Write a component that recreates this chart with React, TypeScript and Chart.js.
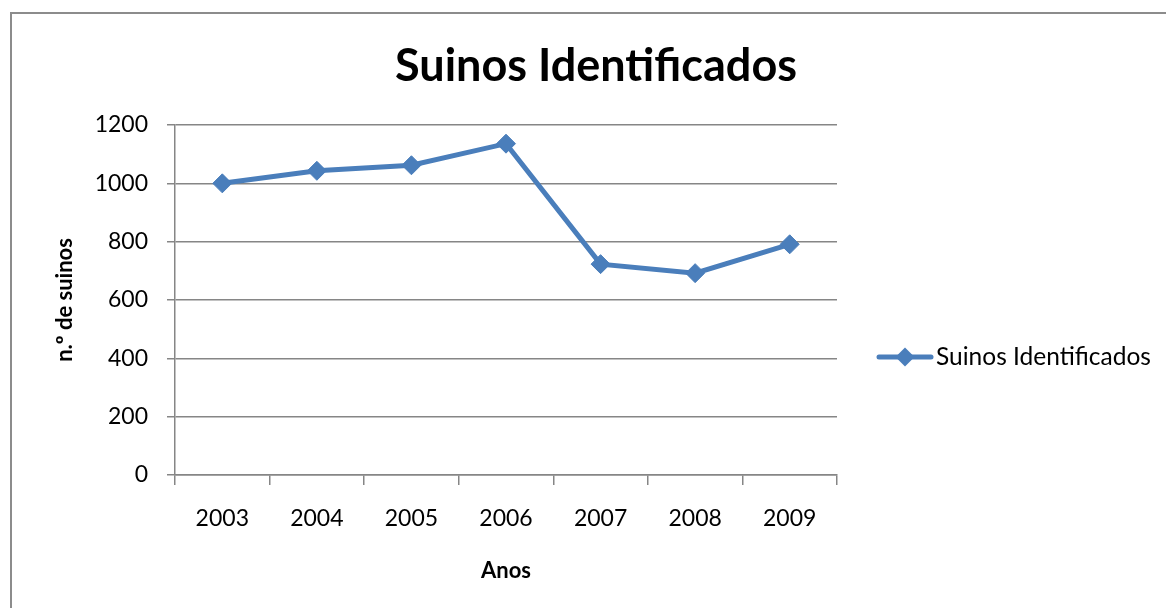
import React, { useEffect, useRef } from "react";
import { Chart, registerables } from "chart.js";

Chart.register(...registerables);

const categories = ["2003", "2004", "2005", "2006", "2007", "2008", "2009"];
const seriesName = "Suinos Identificados";
const seriesValues = [1000, 1043, 1062, 1136, 723, 692, 791];
const yTicks = [0, 200, 400, 600, 800, 1000, 1200];
const chartTitle = "Suinos Identificados";
const yTitle = "n.º de suinos";
const xTitle = "Anos";

const FONT = "Lato, 'Open Sans', sans-serif";
const LINE = "#4a7ebb";
const GRID = "#868686";

const overlayPlugin = {
  id: "overlay",
  afterDraw(chart: any) {
    const ctx = chart.ctx;
    ctx.save();
    // title
    ctx.fillStyle = "#000";
    ctx.font = `bold 45px ${FONT}`;
    ctx.textAlign = "center";
    ctx.textBaseline = "middle";
    ctx.fillText(chartTitle, 596, 66);
    // legend
    const ds = chart.data.datasets[0];
    const ly = 357;
    ctx.strokeStyle = ds.borderColor;
    ctx.lineWidth = 5;
    ctx.lineCap = "round";
    ctx.beginPath();
    ctx.moveTo(879, ly);
    ctx.lineTo(931, ly);
    ctx.stroke();
    ctx.fillStyle = ds.pointBackgroundColor;
    const r = 9.5;
    const cx = 905;
    ctx.beginPath();
    ctx.moveTo(cx - r, ly);
    ctx.lineTo(cx, ly - r);
    ctx.lineTo(cx + r, ly);
    ctx.lineTo(cx, ly + r);
    ctx.closePath();
    ctx.fill();
    ctx.fillStyle = "#000";
    ctx.font = `24.5px ${FONT}`;
    ctx.textAlign = "left";
    ctx.fillText(ds.label, 936, ly);
    ctx.restore();
  },
};

export default function App() {
  const ref = useRef<HTMLCanvasElement | null>(null);
  useEffect(() => {
    if (!ref.current) return;
    const chart = new Chart(ref.current, {
      type: "line",
      data: {
        labels: categories,
        datasets: [
          {
            label: seriesName,
            data: seriesValues,
            borderColor: LINE,
            backgroundColor: LINE,
            pointBackgroundColor: LINE,
            pointBorderColor: LINE,
            borderWidth: 5,
            pointStyle: "rectRot",
            pointRadius: 9.5,
            pointBorderWidth: 1,
            tension: 0,
          },
        ],
      },
      options: {
        animation: false,
        responsive: false,
        maintainAspectRatio: false,
        layout: { padding: { top: 125, right: 329, bottom: 0, left: 0 } },
        plugins: {
          legend: { display: false },
          title: { display: false },
          tooltip: { enabled: false },
        },
        scales: {
          x: {
            type: "category",
            offset: true,
            afterFit: (s: any) => {
              s.height = 133;
            },
            grid: {
              offset: true,
              drawOnChartArea: false,
              drawTicks: true,
              tickLength: 10,
              color: GRID,
              lineWidth: 1.5,
            },
            border: { color: GRID, width: 1.5 },
            ticks: {
              color: "#000",
              font: { family: FONT, size: 23 },
              padding: 20,
              maxRotation: 0,
            },
            title: {
              display: true,
              text: xTitle,
              color: "#000",
              font: { family: FONT, size: 22, weight: "bold" },
              padding: { top: 0, bottom: 24 },
            },
          },
          y: {
            min: 0,
            max: 1200,
            afterFit: (s: any) => {
              s.width = 175;
            },
            afterBuildTicks: (s: any) => {
              s.ticks = yTicks.map((v) => ({ value: v }));
            },
            grid: {
              color: GRID,
              lineWidth: 1.5,
              tickLength: 8,
              drawTicks: true,
            },
            border: { color: GRID, width: 1.5 },
            ticks: {
              color: "#000",
              font: { family: FONT, size: 23 },
              padding: 19,
              callback: (v: any) => String(v),
            },
            title: {
              display: true,
              text: yTitle,
              color: "#000",
              font: { family: FONT, size: 22, weight: "bold" },
              padding: { top: 52, bottom: 0 },
            },
          },
        },
      },
      plugins: [overlayPlugin],
    });
    return () => chart.destroy();
  }, []);

  return (
    <div
      style={{
        position: "fixed",
        left: 0,
        top: 0,
        width: 1166,
        height: 608,
        overflow: "hidden",
        background: "#fff",
      }}
    >
      <canvas ref={ref} width={1166} height={608} style={{ position: "absolute", left: 0, top: 0, width: 1166, height: 608 }} />
      <div
        style={{
          position: "absolute",
          left: 10,
          top: 12,
          width: 1300,
          height: 800,
          borderLeft: "2px solid #8c8c8c",
          borderTop: "2px solid #8c8c8c",
          pointerEvents: "none",
        }}
      />
    </div>
  );
}
